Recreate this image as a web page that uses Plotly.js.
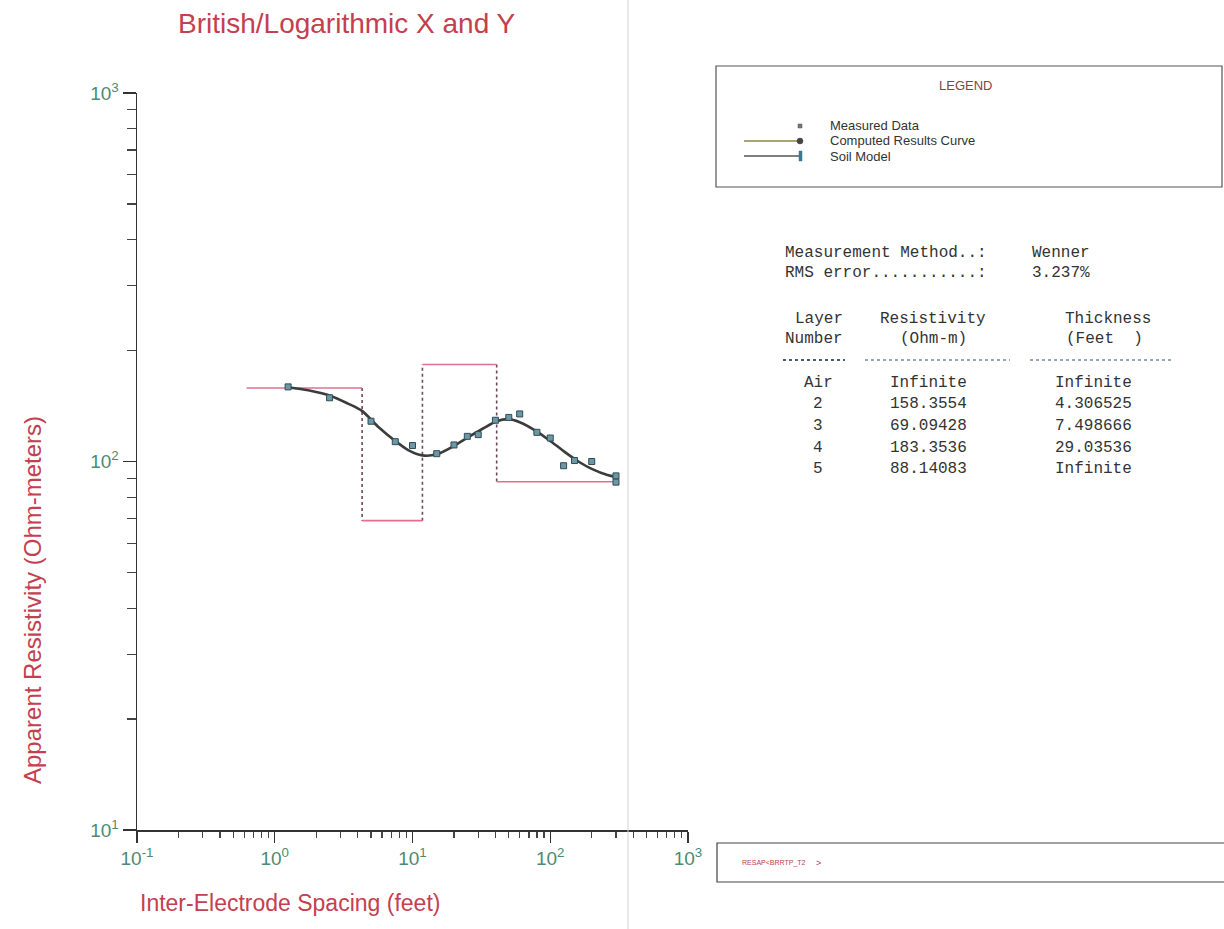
<!DOCTYPE html>
<html>
<head>
<meta charset="utf-8">
<script src="https://cdn.plot.ly/plotly-3.0.1.min.js"></script>
<style>
  html, body { margin: 0; padding: 0; background: #ffffff; }
  #chart { width: 1224px; height: 929px; }
</style>
</head>
<body>
<div id="chart"></div>
<script>
// Wenner sounding: electrode spacing (feet) and measured apparent resistivity (ohm-m)
const spacingFt = [1.25, 2.5, 5, 7.5, 10, 15, 20, 25, 30, 40, 50, 60, 80, 100, 125, 150, 200, 300, 300];
const measuredOhmM = [159.4, 148.9, 128.6, 113.2, 110.5, 105.0, 110.9, 117.0, 118.3, 129.4, 131.7, 134.6, 120.0, 115.8, 97.4, 100.6, 100.0, 91.4, 87.9];

// Computed results curve of the fitted model
const curveFt = [1.25, 1.75, 2.5, 3.4, 4.3, 5.6, 7.5, 9.3, 11.8, 15, 20, 25, 32.5, 40.8, 50, 60, 80, 100, 125, 160, 200, 260, 300];
const curveOhmM = [159.1, 156.1, 151.1, 143.6, 137.2, 124.5, 113.7, 107.4, 103.9, 104.6, 110.2, 116.0, 122.9, 128.6, 130.3, 127.8, 120.6, 113.7, 106.7, 100.0, 95.5, 91.9, 90.8];

// Soil model layers (below the air layer)
const layerNumbers = ['Air', '2', '3', '4', '5'];
const layerResistivity = [158.3554, 69.09428, 183.3536, 88.14083];
const layerResistivityText = ['Infinite', '158.3554', '69.09428', '183.3536', '88.14083'];
const layerThicknessFt = [4.306525, 7.498666, 29.03536];
const layerThicknessText = ['Infinite', '4.306525', '7.498666', '29.03536', 'Infinite'];
const modelStartFt = 0.625;
const modelEndFt = 300;

const measurementMethod = 'Wenner';
const rmsError = '3.237%';

const xTickVals = [0.1, 1, 10, 100, 1000];
const xTickText = ['10<sup>-1</sup>', '10<sup>0</sup>', '10<sup>1</sup>', '10<sup>2</sup>', '10<sup>3</sup>'];
const yTickVals = [10, 100, 1000];
const yTickText = ['10<sup>1</sup>', '10<sup>2</sup>', '10<sup>3</sup>'];

// ---- page geometry helpers (pixels -> paper fraction) ----
const W = 1224, H = 929;
const px = v => v / W;
const py = v => 1 - v / H;

function minorTicks(lo, hi) {
  const out = [];
  for (let e = lo; e < hi; e++) {
    for (let d = 2; d <= 9; d++) out.push(d * Math.pow(10, e));
  }
  return out;
}

// Layer boundaries (depth in feet) from cumulative thickness
const boundaries = [modelStartFt];
let depth = 0;
layerThicknessFt.forEach(t => { depth += t; boundaries.push(depth); });
boundaries.push(modelEndFt);

const modelHx = [], modelHy = [];
layerResistivity.forEach((r, i) => {
  modelHx.push(boundaries[i], boundaries[i + 1], null);
  modelHy.push(r, r, null);
});
const modelVx = [], modelVy = [];
for (let i = 1; i < layerResistivity.length; i++) {
  modelVx.push(boundaries[i], boundaries[i], null);
  modelVy.push(layerResistivity[i - 1], layerResistivity[i], null);
}

const traces = [
  { x: modelVx, y: modelVy, mode: 'lines', type: 'scatter', hoverinfo: 'skip',
    line: { color: '#6d4a58', width: 1.6, dash: 'dot' } },
  { x: modelHx, y: modelHy, mode: 'lines', type: 'scatter', hoverinfo: 'skip',
    line: { color: '#e0708c', width: 1.6 } },
  { x: curveFt, y: curveOhmM, mode: 'lines', type: 'scatter',
    line: { color: '#3c3c3c', width: 2.6, shape: 'spline', smoothing: 0.8 } },
  { x: spacingFt, y: measuredOhmM, mode: 'markers', type: 'scatter',
    marker: { symbol: 'square', size: 6, color: '#6d97a4', line: { color: '#2e4c56', width: 1 } } }
];

const sans = 'Liberation Sans, Arial, sans-serif';
const mono = 'Liberation Mono, Courier New, monospace';
const red = '#c4404f';
const tickGreen = '#4d8a72';

const annotations = [];
function ann(text, x, y, o) {
  o = o || {};
  annotations.push({
    text: text, x: px(x), y: py(y), xref: 'paper', yref: 'paper', showarrow: false,
    xanchor: o.xa || 'left', yanchor: 'middle', textangle: o.angle || 0,
    font: { family: o.family || sans, size: o.size || 14, color: o.color || '#333333' }
  });
}

// titles
ann('British/Logarithmic X and Y', 347, 23, { xa: 'center', size: 28, color: red });
ann('Inter-Electrode Spacing (feet)', 290, 903, { xa: 'center', size: 23, color: red });
ann('Apparent Resistivity (Ohm-meters)', 32, 600, { xa: 'center', size: 24, color: red, angle: -90 });

// legend box contents
ann('LEGEND', 965, 86, { xa: 'center', size: 13, color: '#7a4646' });
ann('Measured Data', 828, 126, { size: 13 });
ann('Computed Results Curve', 828, 141, { size: 13 });
ann('Soil Model', 828, 156, { size: 13 });

// model summary table
ann('Measurement Method..:', 783, 253, { family: mono, size: 16 });
ann('RMS error...........:', 783, 273, { family: mono, size: 16 });
ann(measurementMethod, 1030, 253, { family: mono, size: 16 });
ann(rmsError, 1030, 273, { family: mono, size: 16 });
ann('Layer', 819, 319, { family: mono, size: 16, xa: 'center' });
ann('Number', 814, 339, { family: mono, size: 16, xa: 'center' });
ann('Resistivity', 933, 319, { family: mono, size: 16, xa: 'center' });
ann('(Ohm-m)', 933, 339, { family: mono, size: 16, xa: 'center' });
ann('Thickness', 1108, 319, { family: mono, size: 16, xa: 'center' });
ann('(Feet&nbsp;&nbsp;)', 1104, 339, { family: mono, size: 16, xa: 'center' });
const rowY = [383, 404, 426, 448, 469];
layerNumbers.forEach((n, i) => {
  ann(n, 818, rowY[i], { family: mono, size: 16, xa: 'center' });
  ann(layerResistivityText[i], 928, rowY[i], { family: mono, size: 16, xa: 'center' });
  ann(layerThicknessText[i], 1093, rowY[i], { family: mono, size: 16, xa: 'center' });
});

// status bar text
ann('RESAP&lt;BRRTP_T2', 740, 863, { size: 7, color: '#c0404f' });
ann('&gt;', 814, 863, { size: 9, color: '#c0404f' });

const shapes = [
  // panel separator
  { type: 'line', xref: 'paper', yref: 'paper', x0: px(628), x1: px(628), y0: 0, y1: 1,
    line: { color: '#d2d2d2', width: 1 } },
  // legend frame
  { type: 'rect', xref: 'paper', yref: 'paper', x0: px(716), x1: px(1222), y0: py(66), y1: py(187),
    line: { color: '#555555', width: 1.2 } },
  // legend samples
  { type: 'rect', xref: 'paper', yref: 'paper', x0: px(798), x1: px(802), y0: py(124), y1: py(128),
    fillcolor: '#777777', line: { color: '#555555', width: 0.5 } },
  { type: 'line', xref: 'paper', yref: 'paper', x0: px(744), x1: px(800), y0: py(141), y1: py(141),
    line: { color: '#8a8a3c', width: 1.5 } },
  { type: 'circle', xref: 'paper', yref: 'paper', x0: px(797), x1: px(803), y0: py(138), y1: py(144),
    fillcolor: '#444444', line: { color: '#444444', width: 0.5 } },
  { type: 'line', xref: 'paper', yref: 'paper', x0: px(744), x1: px(800), y0: py(156), y1: py(156),
    line: { color: '#555555', width: 1.5 } },
  { type: 'rect', xref: 'paper', yref: 'paper', x0: px(799), x1: px(802), y0: py(151), y1: py(161),
    fillcolor: '#2f7f8f', line: { color: '#2f7f8f', width: 0.5 } },
  // table header underlines
  { type: 'line', xref: 'paper', yref: 'paper', x0: px(783), x1: px(845), y0: py(360), y1: py(360),
    line: { color: '#4a5a70', width: 2, dash: 'dot' } },
  { type: 'line', xref: 'paper', yref: 'paper', x0: px(865), x1: px(1010), y0: py(360), y1: py(360),
    line: { color: '#7a8aa0', width: 1.6, dash: 'dot' } },
  { type: 'line', xref: 'paper', yref: 'paper', x0: px(1030), x1: px(1173), y0: py(360), y1: py(360),
    line: { color: '#7a8aa0', width: 1.6, dash: 'dot' } },
  // status bar frame
  { type: 'rect', xref: 'paper', yref: 'paper', x0: px(717), x1: px(1230), y0: py(843), y1: py(882),
    line: { color: '#444444', width: 1.2 } }
];

const layout = {
  width: W, height: H,
  margin: { l: 0, r: 0, t: 0, b: 0 },
  paper_bgcolor: '#ffffff', plot_bgcolor: '#ffffff',
  showlegend: false,
  xaxis: {
    type: 'log', range: [-1, 3], domain: [px(137), px(688)], anchor: 'y',
    showline: true, linecolor: '#333333', linewidth: 1.5, mirror: false,
    showgrid: false, zeroline: false,
    ticks: 'outside', ticklen: 11, tickwidth: 1.4, tickcolor: '#333333',
    tickmode: 'array', tickvals: xTickVals, ticktext: xTickText,
    tickfont: { family: sans, size: 19, color: tickGreen },
    minor: { tickmode: 'array', tickvals: minorTicks(-1, 3), ticks: 'outside', ticklen: 6,
             tickwidth: 1.2, tickcolor: '#444444', showgrid: false }
  },
  yaxis: {
    type: 'log', range: [1, 3], domain: [py(830), py(93)], anchor: 'x',
    showline: true, linecolor: '#333333', linewidth: 1.5, mirror: false,
    showgrid: false, zeroline: false,
    ticks: 'outside', ticklen: 13, tickwidth: 1.4, tickcolor: '#333333',
    tickmode: 'array', tickvals: yTickVals, ticktext: yTickText,
    tickfont: { family: sans, size: 19, color: tickGreen },
    minor: { tickmode: 'array', tickvals: minorTicks(1, 3), ticks: 'outside', ticklen: 9,
             tickwidth: 1.2, tickcolor: '#444444', showgrid: false }
  },
  annotations: annotations,
  shapes: shapes
};

Plotly.newPlot('chart', traces, layout, { displayModeBar: false, staticPlot: true });
</script>
</body>
</html>
